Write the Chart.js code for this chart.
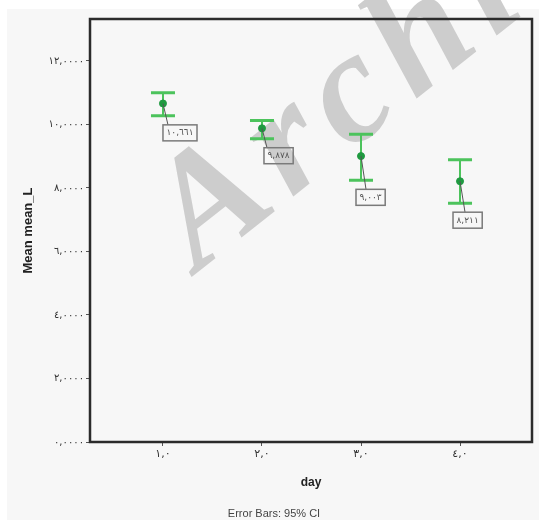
<!DOCTYPE html>
<html>
<head>
<meta charset="utf-8">
<script src="https://cdn.jsdelivr.net/npm/chart.js@4/dist/chart.umd.min.js"></script>
<style>
  body { margin: 0; background: #fff; }
  canvas { display: block; }
</style>
</head>
<body>
<canvas id="mean_chart" width="539" height="520"></canvas>
<script>
const days = [1, 2, 3, 4];
const dayLabels = ["١,٠", "٢,٠", "٣,٠", "٤,٠"];
const meanValues = [10.661, 9.878, 9.003, 8.211];
const lowerCI = [10.27, 9.55, 8.24, 7.52];
const upperCI = [11.0, 10.12, 9.69, 8.89];
const meanLabels = ["١٠,٦٦١", "٩,٨٧٨", "٩,٠٠٣", "٨,٢١١"];
const yTicks = [0, 2, 4, 6, 8, 10, 12];
const yTickLabels = ["٠,٠٠٠٠", "٢,٠٠٠٠", "٤,٠٠٠٠", "٦,٠٠٠٠", "٨,٠٠٠٠", "١٠,٠٠٠٠", "١٢,٠٠٠٠"];
// little sideways nudge of each value box, as in the original output
const labelShift = [0, 2, -5, -7];

const barGreen = "#4cc35c";
const dotGreen = "#1f9a40";
const arabicFont = '"DejaVu Sans", sans-serif';

const spssPlugin = {
  id: "spss",
  beforeDraw(chart) {
    const ctx = chart.ctx;
    ctx.save();
    ctx.fillStyle = "#ffffff";
    ctx.fillRect(0, 0, chart.width, chart.height);
    ctx.fillStyle = "#f7f7f7";
    ctx.fillRect(7, 9, chart.width - 7, chart.height - 9);
    ctx.restore();
  },
  beforeDatasetsDraw(chart) {
    const ctx = chart.ctx;
    const xs = chart.scales.x, ys = chart.scales.y;
    ctx.save();

    // watermark
    ctx.save();
    ctx.translate(198, 272);
    ctx.rotate(-0.67);
    ctx.fillStyle = "rgba(200,200,200,0.9)";
    ctx.font = 'italic bold 158px "Liberation Serif", serif';
    ctx.letterSpacing = "13px";
    ctx.fillText("Archive of SID", 0, 0);
    ctx.restore();

    // frame
    const a = chart.chartArea;
    ctx.strokeStyle = "#2b2b2b";
    ctx.lineWidth = 2.5;
    ctx.strokeRect(a.left, a.top, a.right - a.left, a.bottom - a.top);

    // error bars
    ctx.strokeStyle = barGreen;
    days.forEach((d, i) => {
      const x = xs.getPixelForValue(d);
      const lo = ys.getPixelForValue(lowerCI[i]);
      const hi = ys.getPixelForValue(upperCI[i]);
      ctx.lineWidth = 2;
      ctx.beginPath();
      ctx.moveTo(x, hi);
      ctx.lineTo(x, lo);
      ctx.stroke();
      ctx.lineWidth = 3;
      ctx.beginPath();
      ctx.moveTo(x - 12, hi);
      ctx.lineTo(x + 12, hi);
      ctx.moveTo(x - 12, lo);
      ctx.lineTo(x + 12, lo);
      ctx.stroke();
    });
    ctx.restore();
  },
  afterDatasetsDraw(chart) {
    const ctx = chart.ctx;
    const xs = chart.scales.x, ys = chart.scales.y;
    ctx.save();

    // value boxes
    ctx.font = "9px " + arabicFont;
    ctx.textBaseline = "middle";
    ctx.textAlign = "left";
    days.forEach((d, i) => {
      const px = xs.getPixelForValue(d);
      const py = ys.getPixelForValue(meanValues[i]);
      const lo = ys.getPixelForValue(lowerCI[i]);
      const w = ctx.measureText(meanLabels[i]).width + 7;
      const bx = px + labelShift[i];
      const by = lo + 9;
      ctx.strokeStyle = "#555";
      ctx.lineWidth = 1;
      ctx.beginPath();
      ctx.moveTo(px, py);
      ctx.lineTo(px + 5, by);
      ctx.stroke();
      ctx.strokeStyle = "#7a7a7a";
      ctx.lineWidth = 1.5;
      ctx.strokeRect(bx, by, w, 16);
      ctx.fillStyle = "#555";
      ctx.fillText(meanLabels[i], bx + 3.5, by + 8);
    });

    // footnote
    ctx.fillStyle = "#444";
    ctx.textAlign = "center";
    ctx.font = '11px "Liberation Sans Narrow", "Liberation Sans", sans-serif';
    ctx.fillText("Error Bars: 95% CI", 274, 514);
    ctx.restore();
  }
};

const ctx = document.getElementById("mean_chart").getContext("2d");
const meanChart = new Chart(ctx, {
  type: "scatter",
  data: {
    datasets: [
      {
        label: "mean_L",
        data: days.map((d, i) => ({ x: d, y: meanValues[i] })),
        backgroundColor: dotGreen,
        borderColor: dotGreen,
        pointRadius: 3.5,
        pointStyle: "circle",
        showLine: false,
      },
    ],
  },
  options: {
    responsive: false,
    animation: false,
    layout: { padding: { top: 19, right: 7, left: 0, bottom: 0 } },
    plugins: {
      legend: { display: false },
      tooltip: { enabled: false },
    },
    scales: {
      x: {
        type: "linear",
        min: 0.263,
        max: 4.727,
        afterBuildTicks: (scale) => {
          scale.ticks = days.map((v) => ({ value: v }));
        },
        afterFit: (scale) => {
          scale.height = 78;
        },
        border: { display: false },
        grid: { drawOnChartArea: false, tickLength: 4, color: "#555", lineWidth: 1 },
        ticks: {
          autoSkip: false,
          maxRotation: 0,
          padding: 2,
          color: "#333",
          font: { family: arabicFont, size: 11 },
          callback: (value) => dayLabels[days.indexOf(value)],
        },
        title: {
          display: true,
          text: "day",
          color: "#222",
          font: { family: "Liberation Sans", size: 12, weight: "bold" },
          padding: { top: 0, bottom: 30 },
        },
      },
      y: {
        min: 0,
        max: 13.32,
        afterBuildTicks: (scale) => {
          scale.ticks = yTicks.map((v) => ({ value: v }));
        },
        afterFit: (scale) => {
          scale.width = 90;
        },
        border: { display: false },
        grid: { drawOnChartArea: false, tickLength: 4, color: "#555", lineWidth: 1 },
        ticks: {
          padding: 2,
          color: "#333",
          font: { family: arabicFont, size: 10 },
          callback: (value) => yTickLabels[yTicks.indexOf(value)],
        },
        title: {
          display: true,
          text: "Mean mean_L",
          color: "#222",
          font: { family: "Liberation Sans", size: 13, weight: "bold" },
          padding: { top: 21, bottom: 0 },
        },
      },
    },
  },
  plugins: [spssPlugin],
});
</script>
</body>
</html>
